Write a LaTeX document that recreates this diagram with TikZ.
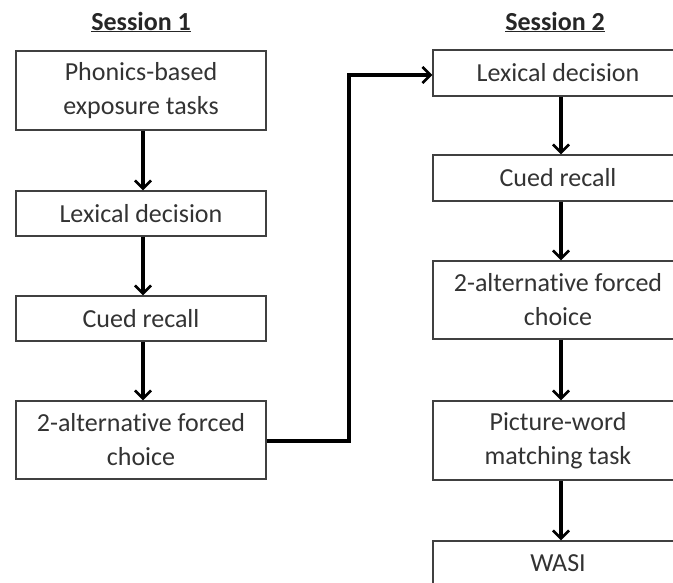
\documentclass[tikz,border=0pt]{standalone}
\usepackage{fontspec}
\setmainfont{Carlito}[Ligatures=NoCommon]
\usetikzlibrary{arrows.meta}
\begin{document}
\begin{tikzpicture}[x=1pt,y=-1pt,
  box/.style={draw=black!75, line width=1.4pt, fill=white, minimum width=250pt, align=center, font=\fontsize{26}{34}\selectfont, text=black!80, inner sep=0pt},
  conn/.style={line width=3.2pt, -{Straight Barb[length=8pt,width=16pt,line width=2.6pt]}},
  head/.style={font=\fontsize{26}{30}\selectfont\bfseries, text=black!85}]
\useasboundingbox (0,0) rectangle (673,583);
\clip (0,0) rectangle (673,583);
\node[head] (s1) at (141,22) {\underline{Session 1}};
\node[head] (s2) at (555,22) {\underline{Session 2}};
% Session 1
\node[box, minimum height=79pt] (a1) at (141,90.5) {Phonics-based\\exposure tasks};
\node[box, minimum height=45pt] (a2) at (141,213.5) {Lexical decision};
\node[box, minimum height=45pt] (a3) at (141,318.5) {Cued recall};
\node[box, minimum height=78pt] (a4) at (141,440) {2-alternative forced\\choice};
% Session 2
\node[box, minimum height=46pt] (b1) at (558,73) {Lexical decision};
\node[box, minimum height=46pt] (b2) at (558,178) {Cued recall};
\node[box, minimum height=78pt] (b3) at (558,300) {2-alternative forced\\choice};
\node[box, minimum height=79pt] (b4) at (558,440.5) {Picture-word\\matching task};
\node[box, minimum height=60pt] (b5) at (558,571) {};
\node[font=\fontsize{26}{34}\selectfont, text=black!80] (b5t) at (558,563) {WASI};
% connectors
\draw[conn] (a1.south -| 143,0) -- (a2.north -| 143,0);
\draw[conn] (a2.south -| 143,0) -- (a3.north -| 143,0);
\draw[conn] (a3.south -| 143,0) -- (a4.north -| 143,0);
\coordinate (c1) at (349,441);
\coordinate (c2) at (349,75);
\draw[conn] (a4.east |- c1) -- (c1) -- (c2) -- (b1.west |- c2);
\draw[conn] (b1.south -| 561,0) -- (b2.north -| 561,0);
\draw[conn] (b2.south -| 561,0) -- (b3.north -| 561,0);
\draw[conn] (b3.south -| 561,0) -- (b4.north -| 561,0);
\draw[conn] (b4.south -| 561,0) -- (b5.north -| 561,0);
\end{tikzpicture}
\end{document}
